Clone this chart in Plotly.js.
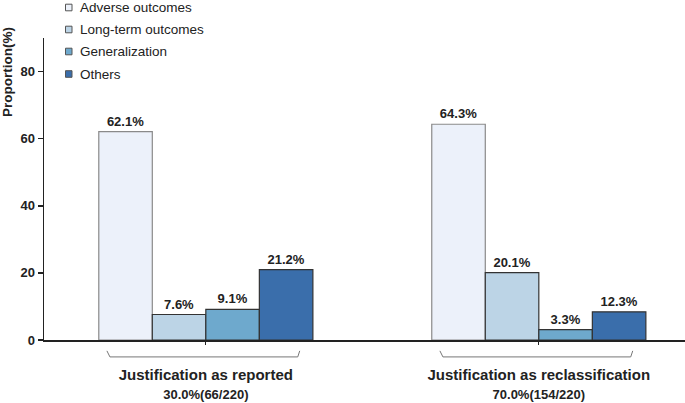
<!DOCTYPE html>
<html><head><meta charset="utf-8">
<script src="https://cdn.plot.ly/plotly-3.0.1.min.js"></script>
<style>html,body{margin:0;padding:0;background:#fff}</style>
</head><body><div id="chart" style="width:685px;height:403px"></div>
<script>
var categories = ["Justification as reported", "Justification as reclassification"];
var subLabels = ["30.0%(66/220)", "70.0%(154/220)"];
var seriesNames = ["Adverse outcomes", "Long-term outcomes", "Generalization", "Others"];
// bar heights as drawn in the picture
var adverse = [62.1, 64.3];
var longTerm = [7.6, 20.1];
var generalization = [9.1, 3.1];
var others = [21.0, 8.4];
// value labels as printed
var adverseLbl = ["62.1%", "64.3%"];
var longTermLbl = ["7.6%", "20.1%"];
var generalizationLbl = ["9.1%", "3.3%"];
var othersLbl = ["21.2%", "12.3%"];
var yTicks = [0, 20, 40, 60, 80];

var fills = ["#ECF1FA", "#BCD4E6", "#6EA9CD", "#3A6EAB"];
var lines = ["#8a8a8a", "#333333", "#333333", "#333333"];
var vals = [adverse, longTerm, generalization, others];
var lbls = [adverseLbl, longTermLbl, generalizationLbl, othersLbl];

var L = 44, T = 38, W = 641, H = 302;
function px(x){ return (x - L) / W; }
function py(y){ return (T + H - y) / H; }

var xIdx = categories.map(function(c, i){ return i; });
var traces = seriesNames.map(function(n, k){
  return {
    type: "bar", name: n, x: xIdx, y: vals[k], text: lbls[k],
    texttemplate: "<b>%{text}</b>", textposition: "outside", cliponaxis: false,
    textfont: {family: "Arial, Liberation Sans, sans-serif", size: 13, color: "#222"},
    marker: {color: fills[k], line: {color: lines[k], width: 1.2}},
    showlegend: false, hoverinfo: "skip"
  };
});

var tickText = categories.map(function(c, i){
  return "<b>" + c + "</b><br><span style='font-size:13px'><b>" + subLabels[i] + "</b></span>";
});

var shapes = [];
xIdx.forEach(function(i){
  var a = i - 0.297, b = i + 0.282;
  shapes.push({type: "path", xref: "x", yref: "paper",
    path: "M" + a + ",-0.036 L" + (a + 0.009) + ",-0.056 L" + (b - 0.006) + ",-0.056 L" + b + ",-0.036",
    line: {color: "#777", width: 1}});
});

var annotations = [{text: "<b>Proportion(%)</b>", xref: "paper", yref: "paper",
    x: px(7), y: py(72), xanchor: "center", yanchor: "middle", textangle: -90,
    showarrow: false, font: {size: 13.5, color: "#222"}}];

var legendY = [7.5, 29.5, 51.5, 74];
seriesNames.forEach(function(n, k){
  var cy = legendY[k];
  shapes.push({type: "rect", xref: "paper", yref: "paper",
    x0: px(65.5), x1: px(72), y0: py(cy - 3.3), y1: py(cy + 3.3),
    fillcolor: fills[k], line: {color: "#555", width: 1}});
  annotations.push({text: n, xref: "paper", yref: "paper", x: px(78), y: py(cy),
    xanchor: "left", yanchor: "middle", showarrow: false,
    font: {size: 13.5, color: "#222"}});
});

var layout = {
  width: 685, height: 403,
  margin: {l: L, r: 0, t: T, b: 63},
  paper_bgcolor: "#fff", plot_bgcolor: "#fff",
  font: {family: "Arial, Liberation Sans, sans-serif", color: "#222"},
  barmode: "group", bargap: 0.357, bargroupgap: 0,
  showlegend: false,
  xaxis: {range: [-0.486, 1.439], tickvals: xIdx, ticktext: tickText,
    showline: true, linecolor: "#222", linewidth: 1.5,
    ticks: "outside", ticklen: 3, tickcolor: "#222", tickwidth: 1.2,
    tickfont: {size: 15, color: "#222"}, showgrid: false, zeroline: false,
    ticklabelstandoff: 17},
  yaxis: {range: [0, 90], tickvals: yTicks, ticktext: yTicks.map(function(t){return "<b>"+t+"</b>";}),
    showline: true, linecolor: "#222", linewidth: 1.5,
    ticks: "outside", ticklen: 5, tickcolor: "#222", tickwidth: 1.5,
    tickfont: {size: 13, color: "#222"}, showgrid: false, zeroline: false},
  shapes: shapes,
  annotations: annotations
};
Plotly.newPlot("chart", traces, layout, {displayModeBar: false, staticPlot: true});
</script></body></html>
